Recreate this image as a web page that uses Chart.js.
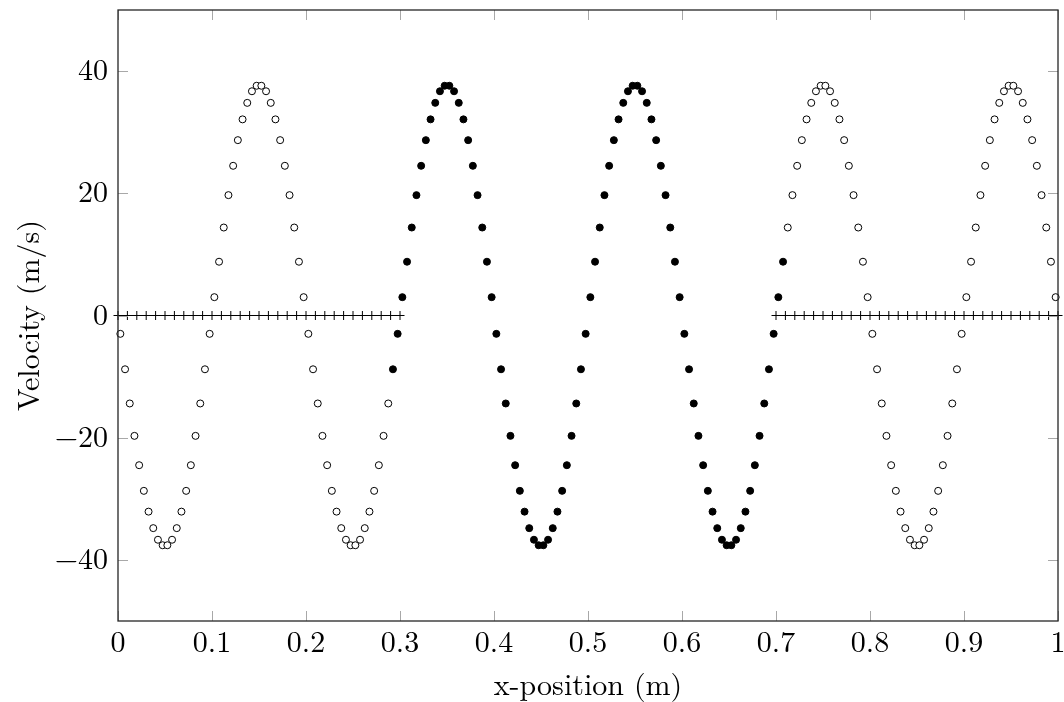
<!DOCTYPE html>
<html>
<head>
<meta charset="utf-8">
<script src="https://cdn.jsdelivr.net/npm/chart.js@4"></script>
<style>
  html, body { margin: 0; padding: 0; background: #fff; }
  #wrap { width: 1064px; height: 702px; }
</style>
</head>
<body>
<div id="wrap"><canvas id="myChart" width="1064" height="702"></canvas></div>
<script>
// tick positions and labels
const xTickValues = [0, 0.1, 0.2, 0.3, 0.4, 0.5, 0.6, 0.7, 0.8, 0.9, 1];
const xTickLabels = ['0', '0.1', '0.2', '0.3', '0.4', '0.5', '0.6', '0.7', '0.8', '0.9', '1'];
const yTickValues = [-40, -20, 0, 20, 40];
const yTickLabels = ['\u221240', '\u221220', '0', '20', '40'];

// open circles, left part
const xOpenLeft = [
  0.0025, 0.0075, 0.0125, 0.0175, 0.0225, 0.0275, 0.0325, 0.0375, 0.0425, 0.0475,
  0.0525, 0.0575, 0.0625, 0.0675, 0.0725, 0.0775, 0.0825, 0.0875, 0.0925, 0.0975,
  0.1025, 0.1075, 0.1125, 0.1175, 0.1225, 0.1275, 0.1325, 0.1375, 0.1425, 0.1475,
  0.1525, 0.1575, 0.1625, 0.1675, 0.1725, 0.1775, 0.1825, 0.1875, 0.1925, 0.1975,
  0.2025, 0.2075, 0.2125, 0.2175, 0.2225, 0.2275, 0.2325, 0.2375, 0.2425, 0.2475,
  0.2525, 0.2575, 0.2625, 0.2675, 0.2725, 0.2775, 0.2825, 0.2875
];
const vOpenLeft = [
  -3.0, -8.8, -14.4, -19.7, -24.5, -28.7, -32.1, -34.8, -36.7, -37.6,
  -37.6, -36.7, -34.8, -32.1, -28.7, -24.5, -19.7, -14.4, -8.8, -3.0,
  3.0, 8.8, 14.4, 19.7, 24.5, 28.7, 32.1, 34.8, 36.7, 37.6,
  37.6, 36.7, 34.8, 32.1, 28.7, 24.5, 19.7, 14.4, 8.8, 3.0,
  -3.0, -8.8, -14.4, -19.7, -24.5, -28.7, -32.1, -34.8, -36.7, -37.6,
  -37.6, -36.7, -34.8, -32.1, -28.7, -24.5, -19.7, -14.4
];

// filled circles, middle part
const xFilled = [
  0.2925, 0.2975,
  0.3025, 0.3075, 0.3125, 0.3175, 0.3225, 0.3275, 0.3325, 0.3375, 0.3425, 0.3475,
  0.3525, 0.3575, 0.3625, 0.3675, 0.3725, 0.3775, 0.3825, 0.3875, 0.3925, 0.3975,
  0.4025, 0.4075, 0.4125, 0.4175, 0.4225, 0.4275, 0.4325, 0.4375, 0.4425, 0.4475,
  0.4525, 0.4575, 0.4625, 0.4675, 0.4725, 0.4775, 0.4825, 0.4875, 0.4925, 0.4975,
  0.5025, 0.5075, 0.5125, 0.5175, 0.5225, 0.5275, 0.5325, 0.5375, 0.5425, 0.5475,
  0.5525, 0.5575, 0.5625, 0.5675, 0.5725, 0.5775, 0.5825, 0.5875, 0.5925, 0.5975,
  0.6025, 0.6075, 0.6125, 0.6175, 0.6225, 0.6275, 0.6325, 0.6375, 0.6425, 0.6475,
  0.6525, 0.6575, 0.6625, 0.6675, 0.6725, 0.6775, 0.6825, 0.6875, 0.6925, 0.6975,
  0.7025, 0.7075
];
const vFilled = [
  -8.8, -3.0,
  3.0, 8.8, 14.4, 19.7, 24.5, 28.7, 32.1, 34.8, 36.7, 37.6,
  37.6, 36.7, 34.8, 32.1, 28.7, 24.5, 19.7, 14.4, 8.8, 3.0,
  -3.0, -8.8, -14.4, -19.7, -24.5, -28.7, -32.1, -34.8, -36.7, -37.6,
  -37.6, -36.7, -34.8, -32.1, -28.7, -24.5, -19.7, -14.4, -8.8, -3.0,
  3.0, 8.8, 14.4, 19.7, 24.5, 28.7, 32.1, 34.8, 36.7, 37.6,
  37.6, 36.7, 34.8, 32.1, 28.7, 24.5, 19.7, 14.4, 8.8, 3.0,
  -3.0, -8.8, -14.4, -19.7, -24.5, -28.7, -32.1, -34.8, -36.7, -37.6,
  -37.6, -36.7, -34.8, -32.1, -28.7, -24.5, -19.7, -14.4, -8.8, -3.0,
  3.0, 8.8
];

// open circles, right part
const xOpenRight = [
  0.7125, 0.7175, 0.7225, 0.7275, 0.7325, 0.7375, 0.7425, 0.7475, 0.7525, 0.7575,
  0.7625, 0.7675, 0.7725, 0.7775, 0.7825, 0.7875, 0.7925, 0.7975,
  0.8025, 0.8075, 0.8125, 0.8175, 0.8225, 0.8275, 0.8325, 0.8375, 0.8425, 0.8475,
  0.8525, 0.8575, 0.8625, 0.8675, 0.8725, 0.8775, 0.8825, 0.8875, 0.8925, 0.8975,
  0.9025, 0.9075, 0.9125, 0.9175, 0.9225, 0.9275, 0.9325, 0.9375, 0.9425, 0.9475,
  0.9525, 0.9575, 0.9625, 0.9675, 0.9725, 0.9775, 0.9825, 0.9875, 0.9925, 0.9975
];
const vOpenRight = [
  14.4, 19.7, 24.5, 28.7, 32.1, 34.8, 36.7, 37.6, 37.6, 36.7,
  34.8, 32.1, 28.7, 24.5, 19.7, 14.4, 8.8, 3.0,
  -3.0, -8.8, -14.4, -19.7, -24.5, -28.7, -32.1, -34.8, -36.7, -37.6,
  -37.6, -36.7, -34.8, -32.1, -28.7, -24.5, -19.7, -14.4, -8.8, -3.0,
  3.0, 8.8, 14.4, 19.7, 24.5, 28.7, 32.1, 34.8, 36.7, 37.6,
  37.6, 36.7, 34.8, 32.1, 28.7, 24.5, 19.7, 14.4, 8.8, 3.0
];

// plus markers on the zero line
const xPlusLeft = [
  0, 0.01, 0.02, 0.03, 0.04, 0.05, 0.06, 0.07, 0.08, 0.09, 0.1,
  0.11, 0.12, 0.13, 0.14, 0.15, 0.16, 0.17, 0.18, 0.19, 0.2,
  0.21, 0.22, 0.23, 0.24, 0.25, 0.26, 0.27, 0.28, 0.29, 0.3
];
const xPlusRight = [
  0.7, 0.71, 0.72, 0.73, 0.74, 0.75, 0.76, 0.77, 0.78, 0.79, 0.8,
  0.81, 0.82, 0.83, 0.84, 0.85, 0.86, 0.87, 0.88, 0.89, 0.9,
  0.91, 0.92, 0.93, 0.94, 0.95, 0.96, 0.97, 0.98, 0.99, 1
];
const vPlus = [
  0, 0, 0, 0, 0, 0, 0, 0, 0, 0, 0,
  0, 0, 0, 0, 0, 0, 0, 0, 0, 0,
  0, 0, 0, 0, 0, 0, 0, 0, 0, 0
];

const pts = (xs, ys) => xs.map((x, i) => ({ x: x, y: ys[i] }));

const FONT = "'Latin Modern Roman', 'Liberation Serif', serif";

// frame box and inward tick marks like the original
const frameTicks = {
  id: 'frameTicks',
  afterDatasetsDraw(chart) {
    const { ctx, chartArea: a, scales: { x, y } } = chart;
    ctx.save();
    ctx.strokeStyle = '#a8a8a8';
    ctx.lineWidth = 1;
    ctx.beginPath();
    xTickValues.forEach(v => {
      const px = Math.round(x.getPixelForValue(v)) + 0.5;
      ctx.moveTo(px, a.bottom); ctx.lineTo(px, a.bottom - 10);
      ctx.moveTo(px, a.top); ctx.lineTo(px, a.top + 10);
    });
    yTickValues.forEach(v => {
      const py = Math.round(y.getPixelForValue(v)) + 0.5;
      ctx.moveTo(a.left, py); ctx.lineTo(a.left + 10, py);
      ctx.moveTo(a.right, py); ctx.lineTo(a.right - 10, py);
    });
    ctx.stroke();
    ctx.strokeStyle = '#262626';
    ctx.lineWidth = 1.3;
    ctx.strokeRect(a.left, a.top, a.right - a.left, a.bottom - a.top);
    ctx.restore();
  }
};

const openStyle = {
  pointStyle: 'circle', pointRadius: 3.5, pointBorderWidth: 1,
  pointBackgroundColor: '#ffffff', pointBorderColor: '#000000',
  showLine: false, clip: false
};
const filledStyle = {
  pointStyle: 'circle', pointRadius: 3.5, pointBorderWidth: 1,
  pointBackgroundColor: '#000000', pointBorderColor: '#000000',
  showLine: false, clip: false
};
const plusStyle = {
  pointStyle: 'cross', pointRadius: 4.5, pointBorderWidth: 1,
  pointBorderColor: '#000000', borderColor: '#000000', borderWidth: 1,
  showLine: true, clip: false
};

const config = {
  type: 'scatter',
  data: {
    datasets: [
      Object.assign({ label: 'plus left', data: pts(xPlusLeft, vPlus) }, plusStyle),
      Object.assign({ label: 'plus right', data: pts(xPlusRight, vPlus) }, plusStyle),
      Object.assign({ label: 'open left', data: pts(xOpenLeft, vOpenLeft) }, openStyle),
      Object.assign({ label: 'filled', data: pts(xFilled, vFilled) }, filledStyle),
      Object.assign({ label: 'open right', data: pts(xOpenRight, vOpenRight) }, openStyle)
    ]
  },
  options: {
    responsive: false,
    animation: false,
    events: [],
    layout: { padding: { top: 10, right: 6, left: 0, bottom: 0 }, autoPadding: false },
    plugins: { legend: { display: false }, tooltip: { enabled: false } },
    scales: {
      x: {
        type: 'linear', min: 0, max: 1,
        grid: { display: false, drawTicks: false },
        border: { display: false },
        afterBuildTicks: s => { s.ticks = xTickValues.map(v => ({ value: v })); },
        afterFit: s => { s.height = 81; s.paddingLeft = 0; s.paddingRight = 0; },
        ticks: {
          autoSkip: false, maxRotation: 0, padding: 4, color: '#000',
          font: { family: FONT, size: 30 },
          callback: (v, i) => xTickLabels[i]
        },
        title: {
          display: true, text: 'x-position (m)', color: '#000',
          font: { family: FONT, size: 30, lineHeight: 1 }, padding: { top: 0, bottom: 1 }
        }
      },
      y: {
        type: 'linear', min: -50, max: 50,
        grid: { display: false, drawTicks: false },
        border: { display: false },
        afterBuildTicks: s => { s.ticks = yTickValues.map(v => ({ value: v })); },
        afterFit: s => { s.width = 118; s.paddingTop = 0; s.paddingBottom = 0; },
        ticks: {
          autoSkip: false, padding: 10, color: '#000',
          font: { family: FONT, size: 30 },
          callback: (v, i) => yTickLabels[i]
        },
        title: {
          display: true, text: 'Velocity (m/s)', color: '#000',
          font: { family: FONT, size: 30, lineHeight: 1 }, padding: { top: 15, bottom: 0 }
        }
      }
    }
  },
  plugins: [frameTicks]
};

var myChart = new Chart(document.getElementById('myChart'), config);
</script>
</body>
</html>
